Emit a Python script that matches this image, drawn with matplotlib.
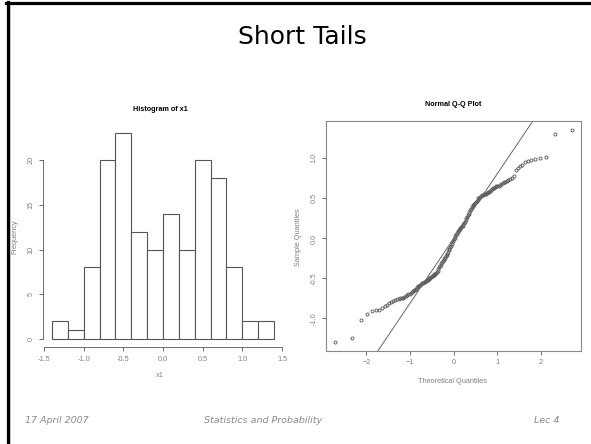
import matplotlib
matplotlib.use("Agg")
import matplotlib.pyplot as plt
import numpy as np
from statistics import NormalDist
from matplotlib.lines import Line2D

# ── Data: sorted sample x1 (grouped by histogram bin) ──
bin_1 = [-1.30, -1.24]
bin_2 = [-1.02]
bin_3 = [-0.94, -0.91, -0.90, -0.89, -0.87, -0.85, -0.83, -0.81]
bin_4 = [-0.79, -0.78, -0.77, -0.76, -0.76, -0.75, -0.74, -0.74, -0.73, -0.72,
         -0.71, -0.70, -0.69, -0.68, -0.67, -0.66, -0.65, -0.64, -0.63, -0.61]
bin_5 = [-0.60, -0.59, -0.58, -0.57, -0.56, -0.56, -0.55, -0.54, -0.53, -0.52,
         -0.52, -0.51, -0.50, -0.49, -0.48, -0.47, -0.47, -0.46, -0.45, -0.44,
         -0.43, -0.42, -0.41]
bin_6 = [-0.38, -0.36, -0.35, -0.33, -0.31, -0.30, -0.28, -0.27, -0.25, -0.24,
         -0.22, -0.21]
bin_7 = [-0.19, -0.17, -0.15, -0.13, -0.11, -0.09, -0.07, -0.05, -0.03, -0.01]
bin_8 = [0.01, 0.03, 0.05, 0.06, 0.08, 0.09, 0.11, 0.12, 0.13, 0.14, 0.15, 0.16,
         0.18, 0.19]
bin_9 = [0.21, 0.23, 0.25, 0.27, 0.29, 0.31, 0.33, 0.35, 0.37, 0.39]
bin_10 = [0.41, 0.42, 0.43, 0.44, 0.46, 0.47, 0.48, 0.50, 0.51, 0.52, 0.53, 0.54,
          0.54, 0.55, 0.56, 0.56, 0.57, 0.58, 0.58, 0.59]
bin_11 = [0.61, 0.62, 0.63, 0.63, 0.64, 0.65, 0.66, 0.66, 0.67, 0.68, 0.69, 0.70,
          0.71, 0.72, 0.73, 0.74, 0.76, 0.78]
bin_12 = [0.85, 0.88, 0.90, 0.92, 0.95, 0.97, 0.98, 0.99]
bin_13 = [1.01, 1.02]
bin_14 = [1.30, 1.36]

x1 = np.array(bin_1 + bin_2 + bin_3 + bin_4 + bin_5 + bin_6 + bin_7 + bin_8 +
              bin_9 + bin_10 + bin_11 + bin_12 + bin_13 + bin_14)
breaks = np.round(np.arange(-1.4, 1.41, 0.2), 2)
hist_xticks = [-1.5, -1.0, -0.5, 0.0, 0.5, 1.0, 1.5]
hist_yticks = [0, 5, 10, 15, 20]
qq_xticks = [-2, -1, 0, 1, 2]
qq_yticks = [-1.0, -0.5, 0.0, 0.5, 1.0]

# ── Styles ───────────────────────────────────────────────────────────────────
RFONT = "Liberation Sans"
C_TXT = "#808080"
C_LN = "#555555"
TFS = 5.3

W, H = 591, 444
fig = plt.figure(figsize=(W / 100, H / 100), dpi=100)
fig.patch.set_facecolor("white")

def px(x, y):
    return x / W, 1 - y / H

# slide frame (top and left)
fig.add_artist(Line2D([6 / W, 1], [1 - 3.5 / H] * 2, color="black", lw=2.3))
fig.add_artist(Line2D([7.5 / W] * 2, [0, 1 - 2 / H], color="black", lw=2.3))
fig.add_artist(Line2D([10 / W] * 2, [0, 1 - 5 / H], color="#bbbbbb", lw=0.6))

fig.text(*px(302, 37), "Short Tails", ha="center", va="center",
         fontsize=18, family="DejaVu Sans")
for xx, t, ha in [(25, "17 April 2007", "left"),
                  (263, "Statistics and Probability", "center"),
                  (559, "Lec 4", "right")]:
    fig.text(*px(xx, 420), t, ha=ha, va="center", fontsize=6.8,
             style="italic", color="#8a8a8a", family="DejaVu Sans")

def r_ticks(ax):
    ax.tick_params(length=3, width=0.6, color=C_LN, labelsize=TFS,
                   labelcolor=C_TXT, pad=3)
    for lab in ax.get_yticklabels():
        lab.set_rotation(90)
        lab.set_va("center")
        lab.set_family(RFONT)
    for lab in ax.get_xticklabels():
        lab.set_family(RFONT)

# ── Histogram ────────────────────────────────────────────────────────────────
ax1 = fig.add_axes([43 / W, 1 - 347.2 / H, 240 / W, 222.2 / H])
counts, _, _ = ax1.hist(x1, bins=breaks, facecolor="white", edgecolor=C_LN,
                        linewidth=0.8)
ax1.set_xlim(breaks[0] - 0.04 * (breaks[-1] - breaks[0]),
             breaks[-1] + 0.04 * (breaks[-1] - breaks[0]))
top = counts.max()
ax1.set_ylim(-0.04 * top, 1.04 * top)
ax1.set_xticks(hist_xticks)
ax1.set_xticklabels([f"{v:.1f}" for v in hist_xticks])
ax1.set_yticks(hist_yticks)
for s in ["top", "right"]:
    ax1.spines[s].set_visible(False)
for s in ["bottom", "left"]:
    ax1.spines[s].set_color(C_LN)
    ax1.spines[s].set_linewidth(0.6)
ax1.spines["bottom"].set_bounds(hist_xticks[0], hist_xticks[-1])
ax1.spines["left"].set_bounds(hist_yticks[0], hist_yticks[-1])
ax1.patch.set_alpha(0)
r_ticks(ax1)
fig.text(*px(160, 109), "Histogram of x1", ha="center", va="center",
         fontsize=5.2, fontweight="bold", family=RFONT)
fig.text(*px(15, 237), "Frequency", ha="center", va="center", rotation=90,
         fontsize=TFS, color=C_TXT, family=RFONT)
fig.text(*px(160, 375), "x1", ha="center", va="center",
         fontsize=TFS, color=C_TXT, family=RFONT)

# ── Normal Q-Q plot ──────────────────────────────────────────────────────────
n = len(x1)
nd = NormalDist()
theo = np.array([nd.inv_cdf((i - 0.5) / n) for i in range(1, n + 1)])
samp = np.sort(x1)

ax2 = fig.add_axes([326 / W, 1 - 351 / H, 255 / W, 230 / H])
ax2.plot(theo, samp, "o", ms=2.2, mfc="none", mec="#555555", mew=0.6)
q1, q3 = np.quantile(samp, [0.25, 0.75])
z1, z3 = nd.inv_cdf(0.25), nd.inv_cdf(0.75)
slope = (q3 - q1) / (z3 - z1)
icpt = q1 - slope * z1
ax2.axline((0, icpt), slope=slope, color="#666666", lw=0.7)
xr = theo.max() - theo.min()
yr = samp.max() - samp.min()
ax2.set_xlim(theo.min() - 0.04 * xr, theo.max() + 0.04 * xr)
ax2.set_ylim(samp.min() - 0.04 * yr, samp.max() + 0.04 * yr)
ax2.set_xticks(qq_xticks)
ax2.set_yticks(qq_yticks)
ax2.set_yticklabels([f"{v:.1f}" for v in qq_yticks])
for s in ax2.spines.values():
    s.set_color("#888888")
    s.set_linewidth(0.8)
r_ticks(ax2)
fig.text(*px(453, 105), "Normal Q-Q Plot", ha="center", va="center",
         fontsize=5.2, fontweight="bold", family=RFONT)
fig.text(*px(298, 237), "Sample Quantiles", ha="center", va="center",
         rotation=90, fontsize=TFS, color=C_TXT, family=RFONT)
fig.text(*px(453, 381), "Theoretical Quantiles", ha="center", va="center",
         fontsize=TFS, color=C_TXT, family=RFONT)

fig.savefig("out.png", dpi=100, facecolor="white")
